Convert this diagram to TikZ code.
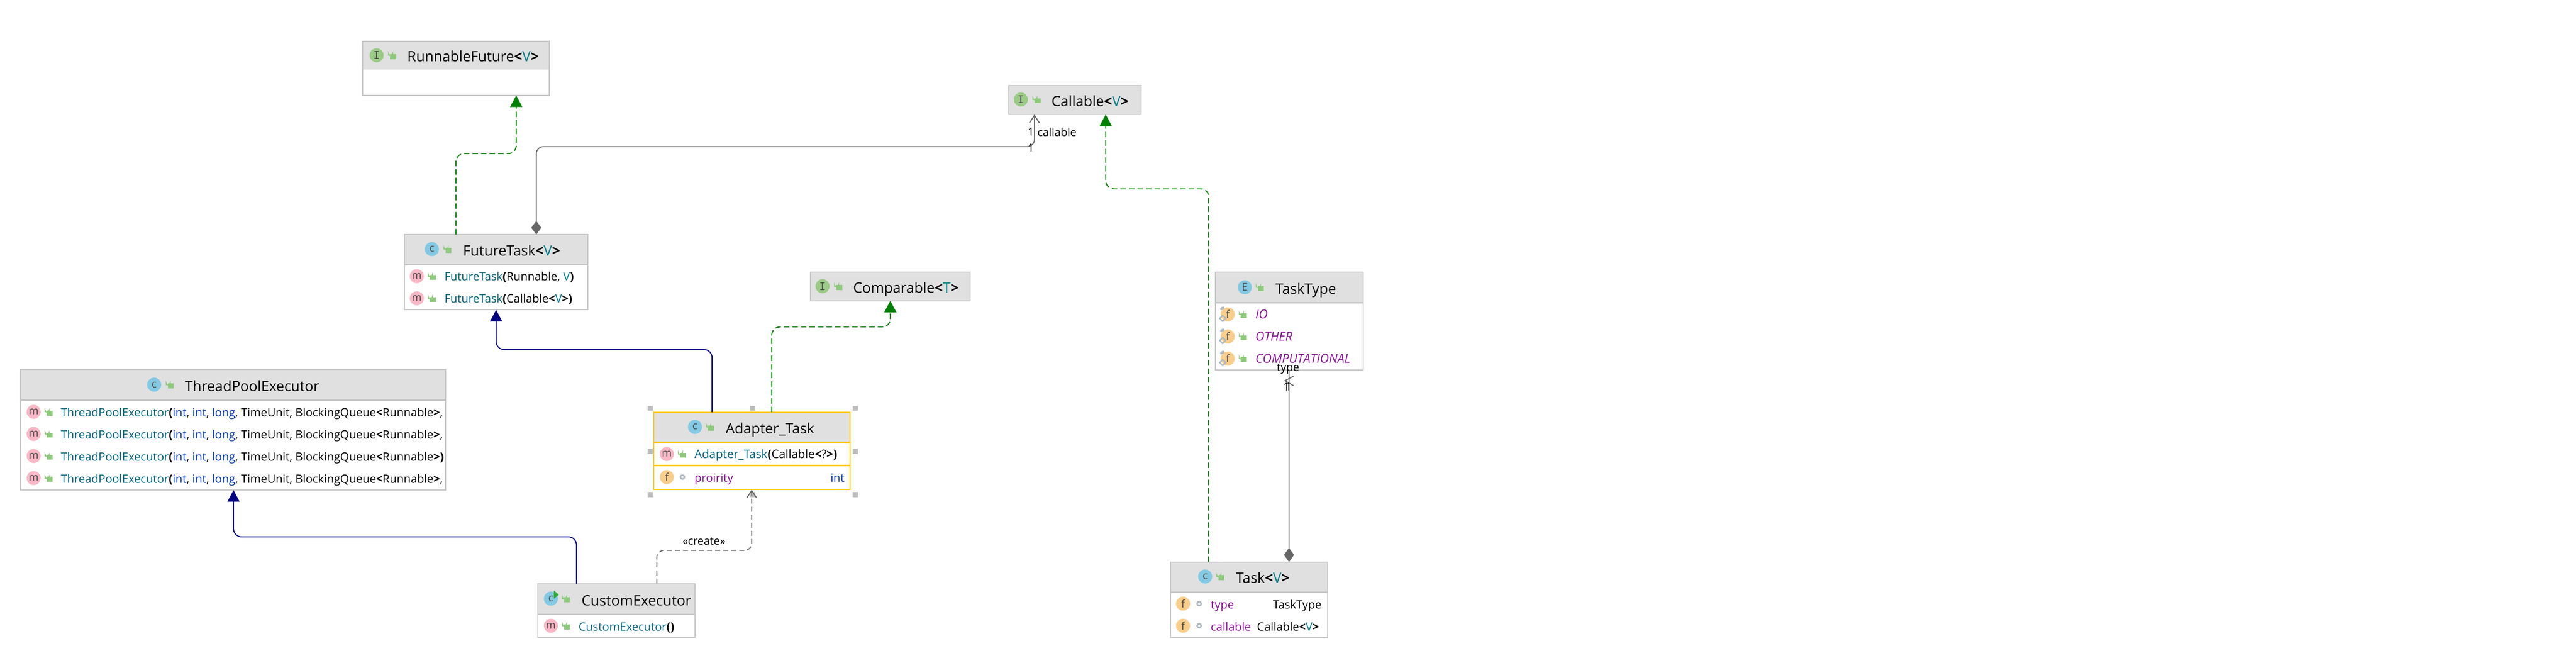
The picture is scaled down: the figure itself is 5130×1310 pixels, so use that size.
\documentclass[tikz,border=0pt]{standalone}
\usepackage{fontspec}
\setmainfont{Open Sans}
\newfontfamily\icfont{DejaVu Sans Mono}
\usetikzlibrary{arrows.meta,calc}
\definecolor{hdr}{HTML}{E0E0E0}
\definecolor{bord}{HTML}{C6C6C6}
\definecolor{sel}{HTML}{FFC800}
\definecolor{hand}{HTML}{BDBDBD}
\definecolor{tpar}{HTML}{007E8A}
\definecolor{mname}{HTML}{00627A}
\definecolor{kwd}{HTML}{0033B3}
\definecolor{fld}{HTML}{871094}
\definecolor{greenl}{HTML}{008000}
\definecolor{bluel}{HTML}{000080}
\definecolor{greyl}{HTML}{666666}
\definecolor{lockc}{HTML}{8FC97D}
\definecolor{icm}{HTML}{FAB7C6}
\definecolor{icc}{HTML}{84C9E3}
\definecolor{ici}{HTML}{9BCB86}
\definecolor{icf}{HTML}{F9CE8C}
\definecolor{icl}{HTML}{4A4A4A}
\definecolor{dotc}{HTML}{AEB9C0}
\newcounter{nid}
\newcommand{\ttlsize}{\fontsize{28.4}{34}\selectfont}
\newcommand{\rowsize}{\fontsize{22.8}{28}\selectfont}
\newcommand{\lblsize}{\fontsize{22}{26}\selectfont}
\newcommand{\tv}[1]{\textcolor{tpar}{#1}}
\newcommand{\kw}[1]{\textcolor{kwd}{#1}}
\newcommand{\mn}[1]{\textcolor{mname}{#1}}
\newcommand{\fl}[1]{\textcolor{fld}{#1}}
\newcommand{\lp}{\textbf{(}}
\newcommand{\rp}{\textbf{)}}
\newcommand{\la}{\textbf{<}}
\newcommand{\ra}{\textbf{>}}
\tikzset{
  x=1pt,y=-1pt,
  autoname/.code={\stepcounter{nid}\tikzset{name=n\arabic{nid}}},
  boxnode/.style={inner sep=0pt,outer sep=0pt,fill=white},
  ttltext/.style={autoname,anchor=base west,inner sep=0pt,font=\ttlsize,text=black},
  rowtext/.style={autoname,anchor=base west,inner sep=0pt,font=\rowsize,text=black},
  rowright/.style={autoname,anchor=base east,inner sep=0pt,font=\rowsize,text=black},
  lbl/.style={autoname,inner sep=0pt,font=\lblsize,text=black},
  icon/.style={autoname,circle,minimum size=28pt,inner sep=0pt,font=\fontsize{21}{21}\selectfont,text=icl},
  handle/.style={autoname,fill=hand,minimum size=10pt,inner sep=0pt,outer sep=0pt},
  ringdot/.style={autoname,circle,draw=dotc,line width=3pt,minimum size=8pt,inner sep=0pt},
  impl/.style={draw=greenl,line width=2pt,dash pattern=on 11pt off 6pt,rounded corners=16pt,-{Triangle[length=23pt,width=24pt,fill=greenl]}},
  inh/.style={draw=bluel,line width=2pt,rounded corners=16pt,-{Triangle[length=23pt,width=24pt,fill=bluel]}},
  dep/.style={draw=greyl,line width=2pt,dash pattern=on 10pt off 6pt,rounded corners=14pt,-{Straight Barb[length=15pt,width=20pt]}},
  comp/.style={draw=greyl,line width=2pt,rounded corners=14pt,{Straight Barb[length=15pt,width=20pt]}-{Diamond[length=27pt,width=20pt,fill=greyl]}},
  compb/.style={draw=greyl,line width=2pt,-{Diamond[length=28pt,width=20pt,fill=greyl]}},
  lockic/.pic={
    \fill[lockc] (-4,-2.5) rectangle (8,7.5);
    \draw[lockc,line width=2pt] (-7,1) -- (-7,-3) arc[start angle=180,end angle=0,radius=4] -- (1,-2);
  },
}
% name, x1, y1, x2, y2, header bottom, border colour
\newcommand{\umlbox}[7]{%
  \pgfmathsetmacro{\bw}{#4-#2}\pgfmathsetmacro{\bh}{#5-#3}%
  \node[boxnode,minimum width=\bw pt,minimum height=\bh pt] (#1) at ({(#2+#4)/2},{(#3+#5)/2}) {};
  \fill[hdr] (#2,#3) rectangle (#4,#6);
  \draw[#7,line width=2pt] (#1.north west) rectangle (#1.south east);
}
\newcommand{\sepl}[4]{\draw[#4,line width=3pt] (#1,#3) -- (#2,#3);}
\newcommand{\ic}[4]{\node[icon,fill=#3] at (#1,#2) {#4};}
\newcommand{\lk}[2]{\pic at (#1,#2) {lockic};}
\newcommand{\ttl}[3]{\node[ttltext] at (#1,#2) {#3};}
\newcommand{\rw}[3]{\node[rowtext] at (#1,#2) {#3};}
\newcommand{\rwr}[3]{\node[rowright] at (#1,#2) {#3};}
\newcommand{\ri}[2]{\node[ringdot] at (#1,#2) {};}
\newcommand{\finalmarks}[2]{%
  \fill[dotc,rotate around={35:(#1-11,#2-12)}] (#1-11,#2-12) ellipse (5 and 3);
  \draw[dotc,line width=2.5pt] (#1-16,#2+8) -- (#1-10,#2+2) -- (#1-4,#2+8) -- (#1-10,#2+14) -- cycle;
}
\newcommand{\tpe}{\mn{ThreadPoolExecutor}\lp\kw{int}, \kw{int}, \kw{long}, TimeUnit, BlockingQueue\la Runnable\ra}
\begin{document}
\begin{tikzpicture}
\path[use as bounding box,fill=white] (0,0) rectangle (5130,1310);
% RunnableFuture
\umlbox{rf}{722}{82}{1094}{190}{139}{bord}
\ic{750}{110}{ici}{\icfont I}\lk{781}{110}
\ttl{811}{123}{RunnableFuture\la\tv{V}\ra}
% Callable
\umlbox{ca}{2009}{170}{2273}{228}{228}{bord}
\ic{2033}{198}{ici}{\icfont I}\lk{2064}{198}
\ttl{2094}{212}{Callable\la\tv{V}\ra}
% Comparable
\umlbox{cp}{1614}{542}{1932}{599}{599}{bord}
\ic{1638}{570}{ici}{\icfont I}\lk{1669}{570}
\ttl{1699}{583}{Comparable\la\tv{T}\ra}
% FutureTask
\umlbox{ft}{805}{467}{1171}{617}{527}{bord}
\sepl{806}{1170}{527}{bord}
\ic{860}{496}{icc}{c}\lk{891}{496}
\ttl{922}{509}{FutureTask\la\tv{V}\ra}
\ic{830}{550}{icm}{m}\lk{860}{550}
\rw{885}{559}{\mn{FutureTask}\lp Runnable, \tv{V}\rp}
\ic{830}{594}{icm}{m}\lk{860}{594}
\rw{885}{603}{\mn{FutureTask}\lp Callable\la\tv{V}\ra\rp}
% ThreadPoolExecutor
\umlbox{tp}{41}{736}{887}{976}{797}{bord}
\sepl{42}{886}{797}{bord}
\ic{307}{766}{icc}{c}\lk{338}{766}
\ttl{368}{779}{ThreadPoolExecutor}
\ic{67}{820}{icm}{m}\lk{97}{820}\rw{121}{830}{\tpe,}
\ic{67}{864}{icm}{m}\lk{97}{864}\rw{121}{874}{\tpe,}
\ic{67}{908}{icm}{m}\lk{97}{908}\rw{121}{918}{\tpe\rp}
\ic{67}{952}{icm}{m}\lk{97}{952}\rw{121}{962}{\tpe,}
% Adapter_Task
\umlbox{ad}{1302}{821}{1693}{975}{881}{sel}
\sepl{1303}{1692}{881}{sel}
\sepl{1303}{1692}{927}{sel}
\ic{1384}{850}{icc}{c}\lk{1414}{850}
\ttl{1445}{863}{Adapter\_Task}
\ic{1328}{904}{icm}{m}\lk{1358}{904}
\rw{1383}{913}{\fontsize{23.4}{28}\selectfont\mn{Adapter\_Task}\lp Callable\la ?\ra\rp}
\ic{1328}{950}{icf}{f}\ri{1359}{950}
\rw{1383}{960}{\fl{proirity}}
\rwr{1682}{960}{\kw{int}}
\foreach \hx in {1295,1499,1703}{\foreach \hy in {813,899,985}{%
  \ifnum\hx=1499 \ifnum\hy=899 \else \node[handle] at (\hx,\hy) {}; \fi \else \node[handle] at (\hx,\hy) {}; \fi}}
% CustomExecutor
\umlbox{ce}{1071}{1162}{1384}{1269}{1223}{bord}
\sepl{1072}{1383}{1223}{bord}
\ic{1097}{1192}{icc}{c}\lk{1127}{1192}
\fill[green!60!black!80] (1103,1176) -- (1113,1184) -- (1103,1192) -- cycle;
\ttl{1158}{1206}{CustomExecutor}
\ic{1097}{1246}{icm}{m}\lk{1127}{1246}
\rw{1152}{1256}{\mn{CustomExecutor}\lp\rp}
% TaskType
\umlbox{tt}{2420}{542}{2715}{737}{603}{bord}
\sepl{2421}{2714}{603}{bord}
\ic{2479}{572}{icc}{E}\lk{2509}{572}
\ttl{2540}{585}{TaskType}
\foreach \ry/\rn in {626/IO,670/OTHER,714/COMPUTATIONAL}{%
  \ic{2445}{\ry}{icf}{f}\finalmarks{2445}{\ry}\lk{2475}{\ry}
  \pgfmathtruncatemacro{\rb}{\ry+9}
  \rw{2500}{\rb}{\fontsize{24.6}{28}\selectfont\itshape\fl{\rn}}
}
% Task
\umlbox{ta}{2331}{1119}{2644}{1269}{1179}{bord}
\sepl{2332}{2643}{1179}{bord}
\ic{2400}{1148}{icc}{c}\lk{2430}{1148}
\ttl{2461}{1161}{Task\la\tv{V}\ra}
\ic{2356}{1202}{icf}{f}\ri{2388}{1202}
\rw{2411}{1212}{\fl{type}}\rwr{2632}{1212}{TaskType}
\ic{2356}{1246}{icf}{f}\ri{2388}{1246}
\rw{2411}{1256}{\fl{callable}}\rwr{2627}{1256}{Callable\la\tv{V}\ra}
% waypoints
\coordinate (p1) at (908,306);
\coordinate (p2) at (1028,306);
\coordinate (p3) at (1068,292);
\coordinate (p4) at (2060,292);
\coordinate (p5) at (988,696);
\coordinate (p6) at (1418,696);
\coordinate (p7) at (1537,651);
\coordinate (p8) at (1773,651);
\coordinate (p9) at (465,1069);
\coordinate (p10) at (1148,1069);
\coordinate (p11) at (1308,1096);
\coordinate (p12) at (1497,1096);
\coordinate (p13) at (2202,376);
\coordinate (p14) at (2407,376);
\coordinate (p15) at (2567,700);
% connectors
\draw[impl] (p1|-ft.north) -- (p1) -- (p2) -- (p2|-rf.south);
\draw[comp] (p4|-ca.south) -- (p4) -- (p3) -- (p3|-ft.north);
\draw[inh] (p6|-ad.north) -- (p6) -- (p5) -- (p5|-ft.south);
\draw[impl] (p7|-ad.north) -- (p7) -- (p8) -- (p8|-cp.south);
\draw[inh] (p10|-ce.north) -- (p10) -- (p9) -- (p9|-tp.south);
\draw[dep] (p11|-ce.north) -- (p11) -- (p12) -- (p12|-ad.south);
\draw[impl] (p14|-ta.north) -- (p14) -- (p13) -- (p13|-ca.south);
\draw[compb] (p15|-tt.south) -- (p15|-ta.north);
\draw[greyl,line width=2pt] (2576,749) -- (2559,758) -- (2576,768);
% labels
\node[lbl,anchor=center] at (1402,1078) {«create»};
\node[lbl,anchor=center] at (2053,263) {1};
\node[lbl,anchor=west] at (2066,263) {callable};
\node[lbl,anchor=center] at (2053,294) {1};
\node[lbl,anchor=center] at (2565,735) {type};
\node[lbl,anchor=center] at (2562,770) {1};
\node[lbl,anchor=center] at (2566,770) {1};
\end{tikzpicture}
\end{document}
